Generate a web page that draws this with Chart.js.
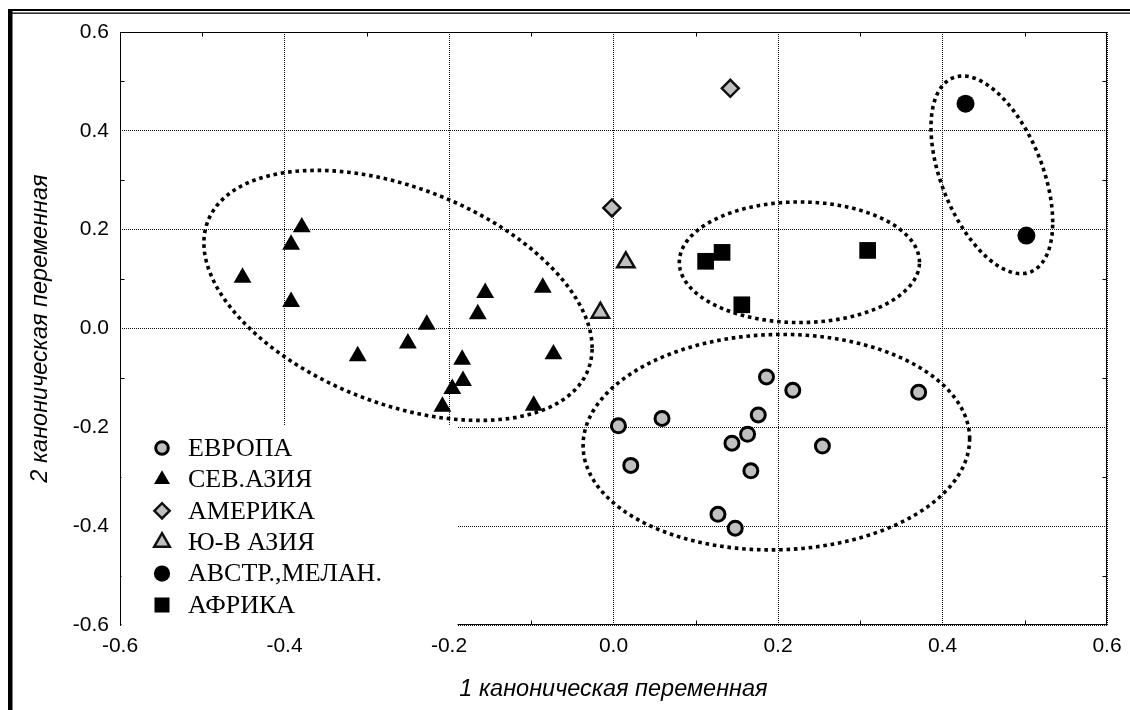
<!DOCTYPE html>
<html>
<head>
<meta charset="utf-8">
<script src="https://cdn.jsdelivr.net/npm/chart.js@4.4.1/dist/chart.umd.min.js"></script>
<style>
  html, body { margin: 0; padding: 0; background: #fff; }
  #wrap { width: 1130px; height: 710px; position: relative; }
</style>
</head>
<body>
<div id="wrap"><canvas id="c" width="1130" height="710"></canvas></div>
<script>
// Group names
const groupNames = ['ЕВРОПА', 'СЕВ.АЗИЯ', 'АМЕРИКА', 'Ю-В АЗИЯ', 'АВСТР.,МЕЛАН.', 'АФРИКА'];

// Canonical scores (1st, 2nd canonical variable) per group
const europeX = [0.186, 0.218, 0.371, 0.006, 0.059, 0.176, 0.163, 0.144, 0.254, 0.021, 0.167, 0.127, 0.148];
const europeY = [-0.098, -0.125, -0.129, -0.197, -0.182, -0.175, -0.214, -0.232, -0.238, -0.277, -0.288, -0.376, -0.404];

const northAsiaX = [-0.379, -0.392, -0.451, -0.392, -0.227, -0.250, -0.311, -0.156, -0.165, -0.086, -0.073, -0.184, -0.183, -0.196, -0.208, -0.097];
const northAsiaY = [0.205, 0.170, 0.103, 0.054, 0.008, -0.030, -0.056, 0.072, 0.029, 0.083, -0.052, -0.063, -0.106, -0.122, -0.158, -0.156];

const americaX = [0.142, -0.002];
const americaY = [0.486, 0.244];

const seAsiaX = [0.015, -0.016];
const seAsiaY = [0.134, 0.032];

const australiaX = [0.428, 0.502];
const australiaY = [0.455, 0.188];

const africaX = [0.112, 0.132, 0.156, 0.309];
const africaY = [0.136, 0.154, 0.048, 0.158];

// Axis ticks
const axisTicks = [-0.6, -0.4, -0.2, 0.0, 0.2, 0.4, 0.6];
const minorTicks = [-0.5, -0.3, -0.1, 0.1, 0.3, 0.5];

// Group ellipses: centre, half-extent along x and y, tilt coefficient
const ellipseCX  = [-0.262, 0.198, 0.226, 0.460];
const ellipseCY  = [0.067, -0.230, 0.134, 0.311];
const ellipseRX  = [0.236, 0.235, 0.146, 0.074];
const ellipseRY  = [0.253, 0.218, 0.122, 0.200];
const ellipseRho = [-0.42, 0.03, 0.0, -0.48];

const pts = (xs, ys) => xs.map((v, i) => ({ x: v, y: ys[i] }));

const SANS = "'Liberation Sans', Arial, sans-serif";
const SERIF = "'Liberation Serif', 'Times New Roman', serif";

// Outer frame of the figure
const framePlugin = {
  id: 'figureFrame',
  beforeDraw(chart) {
    const ctx = chart.ctx;
    ctx.save();
    ctx.fillStyle = '#fff';
    ctx.fillRect(0, 0, chart.width, chart.height);
    ctx.fillStyle = '#000';
    ctx.fillRect(8, 9, chart.width - 8, 2);
    ctx.fillRect(8, 12.5, chart.width - 8, 1.3);
    ctx.fillRect(8, 9, 4.5, chart.height - 9);
    ctx.restore();
  }
};

// Plot border, minor ticks, legend backing and dotted ellipses
const plotDecor = {
  id: 'plotDecor',
  beforeDatasetsDraw(chart, args, opts) {
    const { ctx, chartArea: a, scales: { x, y } } = chart;
    ctx.save();
    ctx.strokeStyle = '#000';
    ctx.lineWidth = 1;
    const L = Math.round(a.left) + 0.5, R = Math.round(a.right) - 0.5;
    const T = Math.round(a.top) + 0.5, B = Math.round(a.bottom) - 0.5;
    ctx.strokeRect(L, T, R - L, B - T);

    ctx.beginPath();
    minorTicks.forEach(v => {
      const px = Math.round(x.getPixelForValue(v)) + 0.5;
      ctx.moveTo(px, T); ctx.lineTo(px, T + 4);
      ctx.moveTo(px, B); ctx.lineTo(px, B - 4);
      const py = Math.round(y.getPixelForValue(v)) + 0.5;
      ctx.moveTo(L, py); ctx.lineTo(L + 4, py);
      ctx.moveTo(R, py); ctx.lineTo(R - 4, py);
    });
    ctx.stroke();

    // white backing under the legend
    const lb = opts.legendBox;
    ctx.fillStyle = '#fff';
    ctx.fillRect(a.left + lb.left, a.top + lb.top, lb.width, a.bottom - a.top - lb.top + 1);

    // dotted group ellipses
    ctx.strokeStyle = '#000';
    ctx.lineWidth = 3.6;
    ctx.lineCap = 'butt';
    ctx.setLineDash([3.6, 3.8]);
    for (let k = 0; k < ellipseCX.length; k++) {
      const s = Math.sqrt(1 - ellipseRho[k] * ellipseRho[k]);
      ctx.beginPath();
      const n = 240;
      for (let i = 0; i <= n; i++) {
        const t = (i / n) * Math.PI * 2;
        const vx = ellipseCX[k] + ellipseRX[k] * Math.cos(t);
        const vy = ellipseCY[k] + ellipseRY[k] * (ellipseRho[k] * Math.cos(t) + s * Math.sin(t));
        const px = x.getPixelForValue(vx), py = y.getPixelForValue(vy);
        if (i === 0) ctx.moveTo(px, py); else ctx.lineTo(px, py);
      }
      ctx.closePath();
      ctx.stroke();
    }
    ctx.restore();
  },
  afterDatasetsDraw(chart, args, opts) {
    const { ctx, chartArea: a } = chart;
    const lb = opts.legendBox;
    ctx.save();
    ctx.font = '26px ' + SERIF;
    ctx.textBaseline = 'middle';
    ctx.textAlign = 'left';
    chart.data.datasets.forEach((ds, i) => {
      const cy = a.top + lb.top + lb.firstRow + i * lb.rowGap;
      const cx = a.left + lb.markerX;
      ctx.fillStyle = ds.pointBackgroundColor;
      ctx.strokeStyle = ds.pointBorderColor;
      ctx.lineWidth = ds.pointBorderWidth;
      Chart.helpers.drawPoint(ctx, {
        pointStyle: ds.pointStyle,
        radius: ds.pointRadius * 0.9,
        rotation: 0,
        borderWidth: ds.pointBorderWidth
      }, cx, cy);
      ctx.fillStyle = '#000';
      ctx.fillText(ds.label, a.left + lb.textX, cy + 1);
    });
    ctx.restore();
  }
};

const axisCommon = (titleText, isX) => ({
  type: 'linear',
  min: -0.6,
  max: 0.6,
  afterBuildTicks: s => { s.ticks = axisTicks.map(v => ({ value: v })); },
  afterFit: s => {
    if (isX) { s.height = 85; } else { s.width = 120; }
    s.paddingLeft = 0; s.paddingRight = 0; s.paddingTop = 0; s.paddingBottom = 0;
  },
  grid: { color: '#141414', lineWidth: 1, drawTicks: false },
  border: { display: false, dash: [1, 1] },
  ticks: {
    color: '#000',
    padding: isX ? 9 : 11,
    font: { family: SANS, size: 21 },
    callback: v => Number(v).toFixed(1)
  },
  title: {
    display: true,
    text: titleText,
    color: '#000',
    font: { family: SANS, size: 23.5, style: 'italic' },
    padding: isX ? { top: 0, bottom: 6 } : { top: 26, bottom: 0 }
  }
});

new Chart(document.getElementById('c'), {
  type: 'scatter',
  data: {
    datasets: [
      { label: groupNames[0], data: pts(europeX, europeY), pointStyle: 'circle', pointRadius: 7,
        pointBackgroundColor: '#c0c0c0', pointBorderColor: '#000', pointBorderWidth: 3 },
      { label: groupNames[1], data: pts(northAsiaX, northAsiaY), pointStyle: 'triangle', pointRadius: 10.3,
        pointBackgroundColor: '#000', pointBorderColor: '#000', pointBorderWidth: 0 },
      { label: groupNames[2], data: pts(americaX, americaY), pointStyle: 'rectRot', pointRadius: 8.5,
        pointBackgroundColor: '#c0c0c0', pointBorderColor: '#111', pointBorderWidth: 2.5 },
      { label: groupNames[3], data: pts(seAsiaX, seAsiaY), pointStyle: 'triangle', pointRadius: 10,
        pointBackgroundColor: '#c0c0c0', pointBorderColor: '#111', pointBorderWidth: 2.5 },
      { label: groupNames[4], data: pts(australiaX, australiaY), pointStyle: 'circle', pointRadius: 9,
        pointBackgroundColor: '#000', pointBorderColor: '#000', pointBorderWidth: 0 },
      { label: groupNames[5], data: pts(africaX, africaY), pointStyle: 'rect', pointRadius: 11.8,
        pointBackgroundColor: '#000', pointBorderColor: '#000', pointBorderWidth: 0 }
    ]
  },
  options: {
    responsive: false,
    animation: false,
    events: [],
    layout: { padding: { top: 32, right: 23, left: 0, bottom: 0 } },
    scales: {
      x: axisCommon('1 каноническая переменная', true),
      y: axisCommon('2 каноническая переменная', false)
    },
    plugins: {
      legend: { display: false },
      tooltip: { enabled: false },
      plotDecor: {
        legendBox: { left: 1.5, top: 394, width: 336, firstRow: 22, rowGap: 31.4, markerX: 42, textX: 68 }
      }
    }
  },
  plugins: [framePlugin, plotDecor]
});
</script>
</body>
</html>
